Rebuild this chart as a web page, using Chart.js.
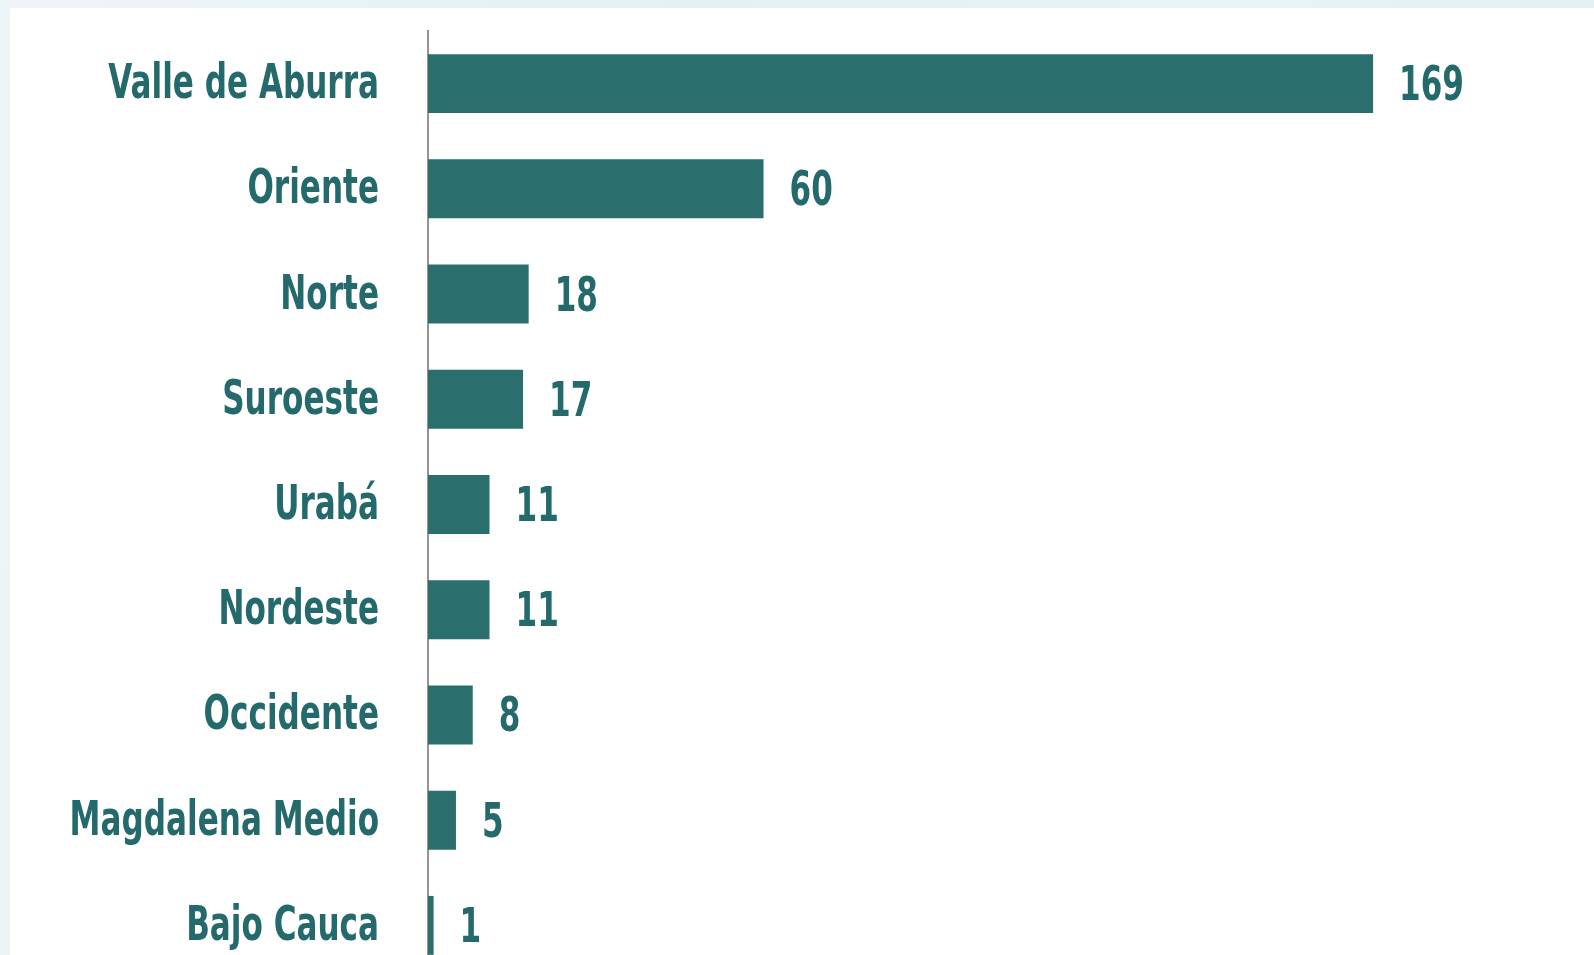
<!DOCTYPE html>
<html>
<head>
<meta charset="utf-8">
<script src="https://cdn.jsdelivr.net/npm/chart.js@4.4.1/dist/chart.umd.min.js"></script>
<style>
  html, body { margin: 0; padding: 0; overflow: hidden; }
  body {
    width: 1594px; height: 955px;
    background: linear-gradient(100deg, #eef5f9 0%, #e4f0f2 40%, #eaf3f5 70%, #e2eef1 100%);
  }
  #panel {
    position: absolute; left: 10px; top: 8px; width: 1584px; height: 1000px;
    background: #ffffff;
  }
  #wrap { position: absolute; left: 0; top: 0; width: 1594px; height: 990px; }
</style>
</head>
<body>
<div id="panel"></div>
<div id="wrap"><canvas id="mycanvas"></canvas></div>
<script>
var regiones = ["Valle de Aburra", "Oriente", "Norte", "Suroeste", "Urabá", "Nordeste", "Occidente", "Magdalena Medio", "Bajo Cauca"];
var totales = [169, 60, 18, 17, 11, 11, 8, 5, 1];

var teal = '#2a6e6e';
var textTeal = '#246a6c';
var fuente = 'bold 48px "Liberation Sans Narrow", "DejaVu Sans Condensed", sans-serif';
var estrecho = 0.72; // la fuente original es condensada

// nombres de region a la izquierda y numero al final de cada barra
var etiquetas = {
  id: 'etiquetas',
  afterDatasetsDraw: function(chart) {
    var ctx = chart.ctx;
    var yScale = chart.scales.y;
    var meta = chart.getDatasetMeta(0);
    ctx.save();
    ctx.fillStyle = textTeal;
    ctx.font = fuente;
    ctx.textBaseline = 'middle';
    regiones.forEach(function(r, i) {
      var y = yScale.getPixelForValue(i);
      ctx.save();
      ctx.translate(yScale.right - 49, y + 2);
      ctx.scale(estrecho, 1);
      ctx.textAlign = 'right';
      ctx.fillText(r, 0, 0);
      ctx.restore();
    });
    meta.data.forEach(function(bar, i) {
      ctx.save();
      ctx.translate(bar.x + 26, bar.y + 4);
      ctx.scale(estrecho, 1);
      ctx.textAlign = 'left';
      ctx.fillText(totales[i], 0, 0);
      ctx.restore();
    });
    ctx.restore();
  }
};

var ctx = document.getElementById('mycanvas');
var chart = new Chart(ctx, {
  type: 'bar',
  data: {
    labels: regiones,
    datasets: [{
      data: totales,
      backgroundColor: teal,
      borderWidth: 0,
      categoryPercentage: 1,
      barPercentage: 0.56
    }]
  },
  options: {
    indexAxis: 'y',
    responsive: true,
    maintainAspectRatio: false,
    animation: false,
    layout: { padding: { top: 31, bottom: 12, left: 0, right: 0 } },
    plugins: {
      legend: { display: false },
      tooltip: { enabled: false }
    },
    scales: {
      x: {
        display: false,
        min: 0,
        max: 208.5
      },
      y: {
        afterFit: function(scale) {
          scale.width = 428;
          scale.paddingTop = 0;
          scale.paddingBottom = 0;
        },
        grid: { display: false },
        border: { display: true, color: '#949494', width: 2 },
        ticks: { display: false }
      }
    }
  },
  plugins: [etiquetas]
});
</script>
</body>
</html>
